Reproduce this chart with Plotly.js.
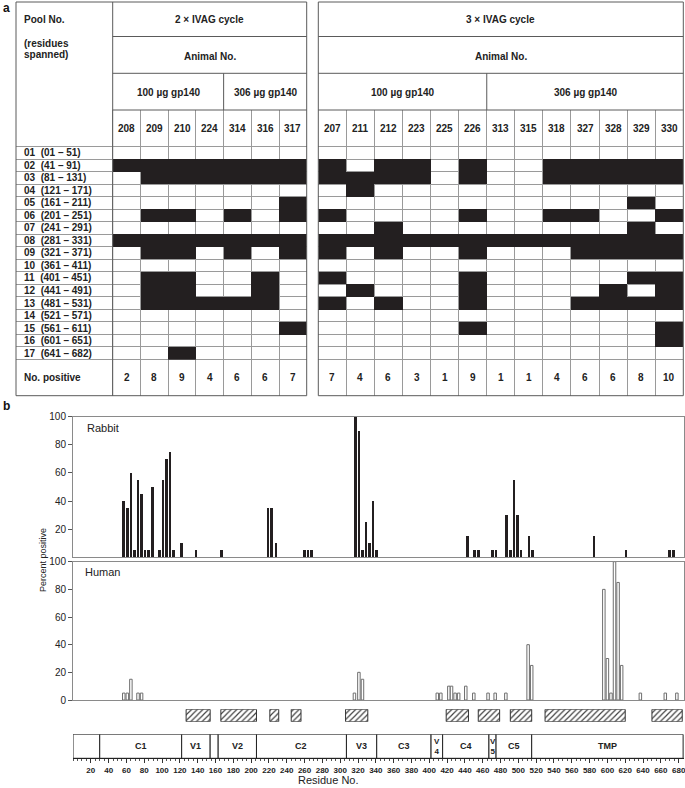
<!DOCTYPE html>
<html>
<head>
<meta charset="utf-8">
<script src="https://cdn.plot.ly/plotly-3.0.1.min.js"></script>
<style>
  body { margin: 0; background: #fff; }
  #chart { width: 685px; height: 788px; }
</style>
</head>
<body>
<div id="chart"></div>
<script>
// ---------- panel a: peptide pools x animals ----------
const poolNo = ['01', '02', '03', '04', '05', '06', '07', '08', '09', '10', '11', '12', '13', '14', '15', '16', '17'];
const poolSpan = ['01 – 51', '41 – 91', '81 – 131', '121 – 171', '161 – 211', '201 – 251', '241 – 291',
  '281 – 331', '321 – 371', '361 – 411', '401 – 451', '441 – 491', '481 – 531', '521 – 571',
  '561 – 611', '601 – 651', '641 – 682'];

const leftAnimals = ['208', '209', '210', '224', '314', '316', '317'];
const rightAnimals = ['207', '211', '212', '223', '225', '226', '313', '315', '318', '327', '328', '329', '330'];

// 1 = pool recognised (black cell)
const leftHits = [
  [0, 0, 0, 0, 0, 0, 0],
  [1, 1, 1, 1, 1, 1, 1],
  [0, 1, 1, 1, 1, 1, 1],
  [0, 0, 0, 0, 0, 0, 0],
  [0, 0, 0, 0, 0, 0, 1],
  [0, 1, 1, 0, 1, 0, 1],
  [0, 0, 0, 0, 0, 0, 0],
  [1, 1, 1, 1, 1, 1, 1],
  [0, 1, 1, 0, 1, 0, 1],
  [0, 0, 0, 0, 0, 0, 0],
  [0, 1, 1, 0, 0, 1, 0],
  [0, 1, 1, 0, 0, 1, 0],
  [0, 1, 1, 1, 1, 1, 0],
  [0, 0, 0, 0, 0, 0, 0],
  [0, 0, 0, 0, 0, 0, 1],
  [0, 0, 0, 0, 0, 0, 0],
  [0, 0, 1, 0, 0, 0, 0]
];
const rightHits = [
  [0, 0, 0, 0, 0, 0, 0, 0, 0, 0, 0, 0, 0],
  [1, 0, 1, 1, 0, 1, 0, 0, 1, 1, 1, 1, 1],
  [1, 1, 1, 1, 0, 1, 0, 0, 1, 1, 1, 1, 1],
  [0, 1, 0, 0, 0, 0, 0, 0, 0, 0, 0, 0, 0],
  [0, 0, 0, 0, 0, 0, 0, 0, 0, 0, 0, 1, 0],
  [1, 0, 0, 0, 0, 1, 0, 0, 1, 1, 0, 0, 1],
  [0, 0, 1, 0, 0, 0, 0, 0, 0, 0, 0, 1, 0],
  [1, 1, 1, 1, 1, 1, 1, 1, 1, 1, 1, 1, 1],
  [1, 0, 1, 0, 0, 1, 0, 0, 0, 1, 1, 1, 1],
  [0, 0, 0, 0, 0, 0, 0, 0, 0, 0, 0, 0, 0],
  [1, 0, 0, 0, 0, 1, 0, 0, 0, 0, 0, 1, 1],
  [0, 1, 0, 0, 0, 1, 0, 0, 0, 0, 1, 0, 1],
  [1, 0, 1, 0, 0, 1, 0, 0, 0, 1, 1, 1, 1],
  [0, 0, 0, 0, 0, 0, 0, 0, 0, 0, 0, 0, 0],
  [0, 0, 0, 0, 0, 1, 0, 0, 0, 0, 0, 0, 1],
  [0, 0, 0, 0, 0, 0, 0, 0, 0, 0, 0, 0, 1],
  [0, 0, 0, 0, 0, 0, 0, 0, 0, 0, 0, 0, 0]
];
const leftPositive = [2, 8, 9, 4, 6, 6, 7];
const rightPositive = [7, 4, 6, 3, 1, 9, 1, 1, 4, 6, 6, 8, 10];

// ---------- panel b: percent positive per peptide ----------
const rabbitPos = [57, 61, 65, 69, 73, 77, 81, 85, 89, 97, 101, 105, 109, 113, 122, 138, 167,
  219, 223, 228, 260, 264, 268, 317, 321, 325, 329, 333, 337, 341, 443, 451, 455, 471, 475,
  487, 491, 495, 499, 503, 512, 516, 585, 621, 670, 674];
const rabbitPct = [40, 35, 60, 5, 55, 45, 5, 5, 50, 5, 55, 70, 75, 5, 10, 5, 5,
  35, 35, 10, 5, 5, 5, 100, 90, 5, 25, 10, 40, 5, 15, 5, 5, 5, 5,
  30, 5, 55, 30, 5, 15, 5, 15, 5, 5, 5];

const humanPos = [57, 61, 65, 73, 77, 316, 321, 325, 409, 413, 422, 425, 429, 433, 441, 450,
  466, 474, 486, 511, 515, 596, 600, 604, 608, 612, 616, 637, 665, 678];
const humanPct = [5, 5, 15, 5, 5, 5, 20, 15, 5, 5, 10, 10, 5, 5, 10, 5,
  5, 5, 5, 40, 25, 80, 30, 5, 100, 85, 25, 5, 5, 5];

// hatched boxes under the plots
const regionStart = [127, 166, 221, 245, 306, 419, 455, 491, 530, 650];
const regionEnd = [154, 206, 231, 256, 331, 444, 479, 515, 620, 684];

// gp140 domain map
const domainEdges = [0, 30, 122, 154, 163, 206, 307, 341, 402, 415, 467, 475, 515, 685];
const domainNames = ['', 'C1', 'V1', '', 'V2', 'C2', 'V3', 'C3', 'V<br>4', 'C4', 'V<br>5', 'C5', 'TMP'];

// ---------- helpers (page is 685 x 788, margins 0, so paper <-> pixels) ----------
const W = 685, H = 788;
const FONT = 'Liberation Sans, Arial, Helvetica, sans-serif';
const px = x => x / W;
const py = y => 1 - y / H;

const INK = '#231f20';
const GRID = '#9a9a9a';
const EDGE = '#5a5a5a';

function hline(y, x0, x1, color) {
  return { type: 'line', xref: 'paper', yref: 'paper', x0: px(x0), x1: px(x1), y0: py(y), y1: py(y),
    line: { color: color || EDGE, width: 1 } };
}
function vline(x, y0, y1, color) {
  return { type: 'line', xref: 'paper', yref: 'paper', x0: px(x), x1: px(x), y0: py(y0), y1: py(y1),
    line: { color: color || EDGE, width: 1 } };
}
function label(text, x, y, opts) {
  return Object.assign({ text: text, x: x, y: y, xref: 'paper', yref: 'paper', showarrow: false,
    font: { family: FONT, size: 10, color: '#222', weight: 'bold' } }, opts || {});
}
const range = n => Array.from({ length: n }, (_, i) => i);

// table geometry
const tTop = 2, tH1 = 36.5, tH2 = 73.3, tH3 = 110, tBot = 395.7;
const L0 = 16, L1 = 112.7, L2 = 306.7, R0 = 318.3, R1 = 683.3;
const rowYMin = -3.43, rowYMax = 19.41;       // animal row above, "No. positive" row below
const animalRowY = (rowYMin - 0.5) / 2;
const posRowY = (16.5 + rowYMax) / 2;

const tableY = {
  domain: [py(tBot), py(tH3)], range: [rowYMax, rowYMin], showgrid: true, gridcolor: GRID,
  gridwidth: 1, tickmode: 'array', tickvals: range(18).map(i => i - 0.5),
  showticklabels: false, ticks: '', zeroline: false, showline: false, fixedrange: true
};

function nullify(m) { return m.map(r => r.map(v => (v ? 1 : null))); }

const data = [];

data.push({
  type: 'heatmap', xaxis: 'x', yaxis: 'y',
  z: nullify(leftHits), x: range(leftAnimals.length), y: range(poolNo.length),
  colorscale: [[0, INK], [1, INK]], zmin: 0, zmax: 1, showscale: false, hoverinfo: 'skip'
});
data.push({
  type: 'heatmap', xaxis: 'x2', yaxis: 'y2',
  z: nullify(rightHits), x: range(rightAnimals.length), y: range(poolNo.length),
  colorscale: [[0, INK], [1, INK]], zmin: 0, zmax: 1, showscale: false, hoverinfo: 'skip'
});

// rabbit (filled) and human (open) bars
data.push({
  type: 'bar', xaxis: 'x3', yaxis: 'y3', x: rabbitPos, y: rabbitPct, width: 2.9,
  marker: { color: INK, line: { width: 0 } }, hoverinfo: 'x+y'
});
data.push({
  type: 'bar', xaxis: 'x4', yaxis: 'y4', x: humanPos, y: humanPct, width: 2.8,
  marker: { color: '#ffffff', line: { color: '#6e6e6e', width: 1 } }, hoverinfo: 'x+y'
});

// hatched regions
data.push({
  type: 'bar', xaxis: 'x5', yaxis: 'y5',
  x: regionStart.map((s, i) => (s + regionEnd[i]) / 2),
  width: regionStart.map((s, i) => regionEnd[i] - s),
  y: regionStart.map(() => 1), base: 0,
  marker: { color: '#ffffff', line: { color: '#333', width: 1 },
    pattern: { shape: '/', fgcolor: '#444', bgcolor: '#ffffff', size: 4, solidity: 0.3 } },
  hoverinfo: 'skip'
});

// domain map boxes
const domMid = domainNames.map((_, i) => (domainEdges[i] + domainEdges[i + 1]) / 2);
data.push({
  type: 'bar', xaxis: 'x6', yaxis: 'y6',
  x: domMid, width: domainNames.map((_, i) => domainEdges[i + 1] - domainEdges[i]),
  y: domainNames.map(() => 1), base: 0,
  marker: { color: '#ffffff', line: { color: '#222', width: 1 } }, hoverinfo: 'skip'
});

const plotX = [px(73), px(684)];
const resRange = [0, 686];

const shapes = [
  // left table frame + header
  { type: 'rect', xref: 'paper', yref: 'paper', x0: px(L0), x1: px(L2), y0: py(tBot), y1: py(tTop),
    line: { color: EDGE, width: 1 } },
  vline(L1, tTop, tBot),
  hline(tH1, L1, L2), hline(tH2, L1, L2), hline(tH3, L1, L2),
  { type: 'line', xref: 'x', yref: 'paper', x0: 3.5, x1: 3.5, y0: py(tH2), y1: py(tH3), line: { color: EDGE, width: 1 } },
  // right table frame + header
  { type: 'rect', xref: 'paper', yref: 'paper', x0: px(R0), x1: px(R1), y0: py(tBot), y1: py(tTop),
    line: { color: EDGE, width: 1 } },
  hline(tH1, R0, R1), hline(tH2, R0, R1), hline(tH3, R0, R1),
  { type: 'line', xref: 'x2', yref: 'paper', x0: 5.5, x1: 5.5, y0: py(tH2), y1: py(tH3), line: { color: EDGE, width: 1 } }
];

const annotations = [
  label('a', 6, 8, { xanchor: 'center', yanchor: 'middle', font: { family: FONT, size: 12, color: '#111', weight: 'bold' } }),
  label('b', 6, 406, { xanchor: 'center', yanchor: 'middle', font: { family: FONT, size: 12, color: '#111', weight: 'bold' } })
].map(a => Object.assign(a, { x: px(a.x), y: py(a.y) }));

function addHeader(x, y, text, anchor) {
  annotations.push(label(text, px(x), py(y), { xanchor: anchor || 'center', yanchor: 'middle' }));
}
addHeader(22, 19, 'Pool No.', 'left');
addHeader(22, 43, '(residues', 'left');
addHeader(22, 55, 'spanned)', 'left');
addHeader((L1 + L2) / 2, 19, '2 × IVAG cycle');
addHeader((L1 + L2) / 2, 56.7, 'Animal No.');
addHeader((R0 + R1) / 2, 19, '3 × IVAG cycle');
addHeader((R0 + R1) / 2, 56.7, 'Animal No.');

const doseY = py(92.7);
[['x', 1.5, '100 µg gp140'], ['x', 5, '306 µg gp140'], ['x2', 2.5, '100 µg gp140'], ['x2', 9, '306 µg gp140']]
  .forEach(d => annotations.push(label(d[2], d[1], doseY, { xref: d[0], xanchor: 'center', yanchor: 'middle' })));

leftAnimals.forEach((a, i) => {
  annotations.push(label(a, i, animalRowY, { xref: 'x', yref: 'y', yanchor: 'middle' }));
  annotations.push(label(String(leftPositive[i]), i, posRowY, { xref: 'x', yref: 'y', yanchor: 'middle' }));
});
rightAnimals.forEach((a, i) => {
  annotations.push(label(a, i, animalRowY, { xref: 'x2', yref: 'y2', yanchor: 'middle' }));
  annotations.push(label(String(rightPositive[i]), i, posRowY, { xref: 'x2', yref: 'y2', yanchor: 'middle' }));
});
poolNo.forEach((p, i) => {
  annotations.push(label(p + '\u00a0\u00a0(' + poolSpan[i] + ')', -3.8, i,
    { xref: 'x', yref: 'y', xanchor: 'left', yanchor: 'middle' }));
});
annotations.push(label('No. positive', -3.8, posRowY, { xref: 'x', yref: 'y', xanchor: 'left', yanchor: 'middle' }));

// panel b labels
const plain = { family: FONT, size: 11, color: '#222' };
annotations.push(label('Rabbit', px(85), py(428), { xanchor: 'left', yanchor: 'middle', font: plain }));
annotations.push(label('Human', px(83), py(572), { xanchor: 'left', yanchor: 'middle', font: plain }));
annotations.push(label('Percent positive', px(43), py(560), { xanchor: 'center', yanchor: 'middle', textangle: -90,
  font: { family: FONT, size: 9, color: '#222' } }));
annotations.push(label('Residue No.', px(328), py(780), { xanchor: 'center', yanchor: 'middle',
  font: { family: FONT, size: 11, color: '#222' } }));
domainNames.forEach((n, i) => {
  if (!n) return;
  const narrow = n.indexOf('<br>') >= 0;
  annotations.push(label(n, domMid[i], py(746.3), { xref: 'x6', xanchor: 'center', yanchor: 'middle',
    font: { family: FONT, size: narrow ? 8 : 9, color: '#222', weight: 'bold' } }));
});

const hiddenAx = { visible: false, fixedrange: true };
const boxAx = { showline: true, mirror: true, linecolor: '#8a8a8a', linewidth: 1, showgrid: false, zeroline: false };

const layout = {
  width: W, height: H,
  margin: { l: 0, r: 0, t: 0, b: 0 },
  paper_bgcolor: '#fff', plot_bgcolor: 'rgba(0,0,0,0)',
  showlegend: false,
  font: { family: FONT, size: 10, color: '#222' },
  bargap: 0,

  xaxis: { domain: [px(L0), px(L2)], range: [-4, 6.5], anchor: 'y', showgrid: true, gridcolor: GRID,
    tickmode: 'array', tickvals: range(8).map(i => i - 0.5), showticklabels: false, ticks: '',
    zeroline: false, fixedrange: true },
  yaxis: Object.assign({ anchor: 'x' }, tableY),
  xaxis2: { domain: [px(R0), px(R1)], range: [-0.5, 12.5], anchor: 'y2', showgrid: true, gridcolor: GRID,
    tickmode: 'array', tickvals: range(14).map(i => i - 0.5), showticklabels: false, ticks: '',
    zeroline: false, fixedrange: true },
  yaxis2: Object.assign({ anchor: 'x2' }, tableY),

  xaxis3: Object.assign({ domain: plotX, range: resRange, anchor: 'y3', showticklabels: false, ticks: '' }, boxAx),
  yaxis3: Object.assign({ domain: [py(557.3), py(416.7)], range: [0, 100], anchor: 'x3',
    tickmode: 'array', tickvals: [20, 40, 60, 80, 100], ticks: 'outside', ticklen: 4, tickcolor: '#555',
    tickfont: { family: FONT, size: 10, color: '#222' } }, boxAx),
  xaxis4: Object.assign({ domain: plotX, range: resRange, anchor: 'y4', showticklabels: false, ticks: '' }, boxAx),
  yaxis4: Object.assign({ domain: [py(700), py(561.7)], range: [0, 100], anchor: 'x4',
    tickmode: 'array', tickvals: [0, 20, 40, 60, 80, 100], ticks: 'outside', ticklen: 4, tickcolor: '#555',
    tickfont: { family: FONT, size: 10, color: '#222' } }, boxAx),

  xaxis5: Object.assign({ domain: plotX, range: resRange, anchor: 'y5' }, hiddenAx),
  yaxis5: Object.assign({ domain: [py(721.7), py(709.3)], range: [0, 1], anchor: 'x5' }, hiddenAx),

  xaxis6: { domain: plotX, range: resRange, anchor: 'y6', showline: true, linecolor: '#222', zeroline: false,
    showgrid: false, tickmode: 'array', tickvals: range(34).map(i => 20 + 20 * i), ticks: 'outside',
    ticklen: 4, tickcolor: '#333', tickfont: { family: FONT, size: 8, color: '#222', weight: 'bold' },
    ticklabeloverflow: 'allow',
    minor: { tickmode: 'array', tickvals: range(137).map(i => 5 * i), ticks: 'outside', ticklen: 2, tickcolor: '#555' },
    fixedrange: true },
  yaxis6: Object.assign({ domain: [py(758.3), py(734.3)], range: [0, 1], anchor: 'x6' }, hiddenAx),

  shapes: shapes,
  annotations: annotations
};

Plotly.newPlot('chart', data, layout, { displayModeBar: false, staticPlot: true });
</script>
</body>
</html>
